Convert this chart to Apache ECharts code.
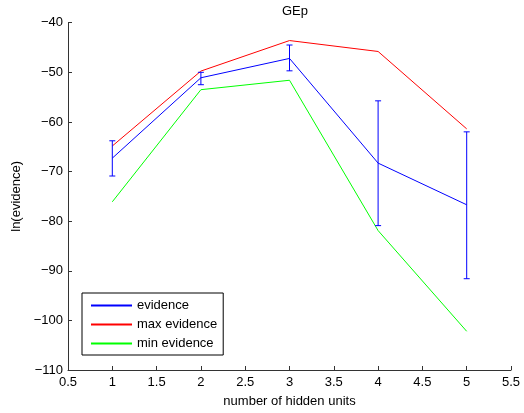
<!DOCTYPE html>
<html><head><meta charset="utf-8">
<script src="https://cdn.jsdelivr.net/npm/echarts@6/dist/echarts.min.js"></script>
<style>html,body{margin:0;padding:0;background:#fff}#c{width:524px;height:413px}</style>
</head><body><div id="c"></div>
<script>
var hiddenUnits = [1, 2, 3, 4, 5];
var evidence = [-67.3, -51.1, -47.2, -68.3, -76.7];
var evidenceLow = [-70.9, -52.5, -49.7, -80.9, -91.6];
var evidenceHigh = [-63.8, -50.0, -44.5, -55.75, -62.0];
var maxEvidence = [-64.85, -49.75, -43.6, -45.8, -61.4];
var minEvidence = [-76.1, -53.5, -51.6, -81.9, -102.2];

var FONT = 'Liberation Sans, Arial, Helvetica, sans-serif';
var FS = 13;
var AX = '#333';
function pairs(ys){ return hiddenUnits.map(function(x,i){return [x, ys[i]];}); }
var errData = hiddenUnits.map(function(x,i){return [x, evidenceLow[i], evidenceHigh[i]];});

var chart = echarts.init(document.getElementById('c'), null, {renderer:'canvas'});
chart.setOption({
  animation:false,
  title:{text:'GEp', left:290, top:0, textAlign:'center',
    textStyle:{fontFamily:FONT, fontSize:FS, fontWeight:'normal', color:'#000'}},
  grid:{left:68, right:13, top:22.7, bottom:41, containLabel:false},
  legend:{
    left:82, top:293, orient:'vertical', icon:'rect', itemWidth:41, itemHeight:2, itemGap:6,
    itemTextGap:5,
    padding:[6,6,5,9], borderColor:'#000', borderWidth:1, backgroundColor:'#fff',
    textStyle:{fontFamily:FONT, fontSize:FS, color:'#000'},
    data:['evidence','max evidence','min evidence']
  },
  xAxis:{type:'value', min:0.5, max:5.5, interval:0.5,
    name:'number of hidden units', nameLocation:'middle', nameGap:25,
    nameTextStyle:{fontFamily:FONT, fontSize:FS, color:'#000'},
    axisLine:{lineStyle:{color:AX}}, axisTick:{inside:true, length:4, lineStyle:{color:AX}},
    axisLabel:{fontFamily:FONT, fontSize:FS, color:'#000', margin:6},
    splitLine:{show:false}},
  yAxis:{type:'value', min:-110, max:-40, interval:10,
    name:'ln(evidence)', nameLocation:'middle', nameGap:42,
    nameTextStyle:{fontFamily:FONT, fontSize:FS, color:'#000'},
    axisLine:{show:true, lineStyle:{color:AX}}, axisTick:{show:true, inside:true, length:4, lineStyle:{color:AX}},
    axisLabel:{fontFamily:FONT, fontSize:FS, color:'#000', margin:5,
      formatter:function(v){return v<0 ? '\u2212'+Math.abs(v) : ''+v;}},
    splitLine:{show:false}},
  series:[
    {name:'evidence', type:'line', data:pairs(evidence), symbol:'none', color:'#0000ff',
      lineStyle:{width:1, color:'#0000ff'}, z:3},
    {name:'max evidence', type:'line', data:pairs(maxEvidence), symbol:'none', color:'#ff0000',
      lineStyle:{width:1, color:'#ff0000'}, z:2},
    {name:'min evidence', type:'line', data:pairs(minEvidence), symbol:'none', color:'#00ff00',
      lineStyle:{width:1, color:'#00ff00'}, z:2},
    {name:'err', type:'custom', data:errData, z:4,
      renderItem:function(params, api){
        var x = api.value(0);
        var lo = api.coord([x, api.value(1)]);
        var hi = api.coord([x, api.value(2)]);
        var w = 3;
        var st = {stroke:'#0000ff', lineWidth:1};
        return {type:'group', children:[
          {type:'line', shape:{x1:lo[0], y1:lo[1], x2:hi[0], y2:hi[1]}, style:st},
          {type:'line', shape:{x1:lo[0]-w, y1:lo[1], x2:lo[0]+w, y2:lo[1]}, style:st},
          {type:'line', shape:{x1:hi[0]-w, y1:hi[1], x2:hi[0]+w, y2:hi[1]}, style:st}
        ]};
      }}
  ]
});
</script></body></html>
